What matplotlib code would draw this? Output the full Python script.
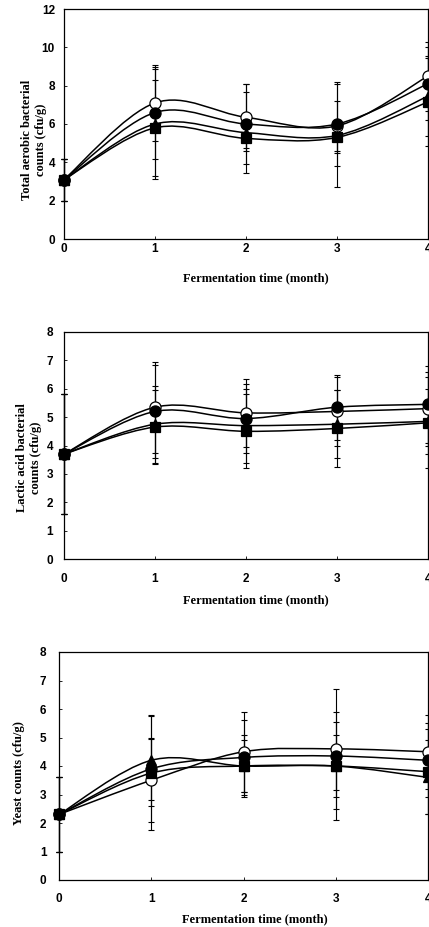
import matplotlib
matplotlib.use("Agg")
import matplotlib.pyplot as plt
from matplotlib.path import Path
from matplotlib.patches import PathPatch

months = [0, 1, 2, 3, 4]
xtick_labels = ["0", "1", "2", "3", "4"]

# Panel 1: total aerobic bacteria
tab_open = [3.1, 7.1, 6.35, 5.9, 8.5]
tab_open_err = [1.1, 2.0, 1.75, 1.3, 1.8]
tab_fill = [3.1, 6.6, 6.0, 6.0, 8.1]
tab_fill_err = [1.1, 2.4, 2.1, 2.2, 1.9]
tab_tri = [3.1, 6.0, 5.55, 5.4, 7.45]
tab_tri_err = [1.1, 2.85, 2.1, 2.7, 2.1]
tab_sq = [3.1, 5.8, 5.25, 5.3, 7.15]
tab_sq_err = [1.1, 2.5, 0.5, 0.8, 2.3]

# Panel 2: lactic acid bacteria
lab_open = [3.7, 5.35, 5.15, 5.2, 5.3]
lab_open_err = [2.1, 1.6, 1.2, 1.2, 1.3]
lab_fill = [3.7, 5.2, 4.95, 5.35, 5.45]
lab_fill_err = [2.1, 1.65, 1.2, 1.15, 1.35]
lab_tri = [3.7, 4.75, 4.7, 4.75, 4.85]
lab_tri_err = [2.1, 1.35, 1.3, 1.2, 1.15]
lab_sq = [3.7, 4.65, 4.5, 4.6, 4.8]
lab_sq_err = [2.1, 1.3, 1.3, 1.35, 1.6]

# Panel 3: yeast
ye_open = [2.3, 3.5, 4.5, 4.6, 4.5]
ye_open_err = [1.3, 1.45, 1.4, 2.1, 1.3]
ye_fill = [2.3, 3.9, 4.3, 4.35, 4.2]
ye_fill_err = [1.3, 1.1, 1.3, 1.2, 1.3]
ye_sq = [2.3, 3.75, 4.0, 4.0, 3.8]
ye_sq_err = [1.3, 2.0, 1.1, 1.1, 1.5]
ye_tri = [2.3, 4.2, 4.0, 4.0, 3.6]
ye_tri_err = [1.3, 1.6, 0.9, 1.9, 1.3]

panels = [
    dict(ylabel="Total aerobic bacterial\ncounts (cfu/g)", ylim=12, yticks=[0, 2, 4, 6, 8, 10, 12],
         series=[(tab_open, tab_open_err, "o", "white"), (tab_sq, tab_sq_err, "s", "black"),
                 (tab_tri, tab_tri_err, "^", "black"), (tab_fill, tab_fill_err, "o", "black")],
         rect=[64/429, 1-239/927, 364/429, 230/927],
         ylab=(-0.047, 0.43), xlab=(0.527, -0.143), ypad=6.5, xpad=3),
    dict(ylabel="Lactic acid bacterial\ncounts (cfu/g)", ylim=8, yticks=list(range(9)),
         series=[(lab_open, lab_open_err, "o", "white"), (lab_sq, lab_sq_err, "s", "black"),
                 (lab_tri, lab_tri_err, "^", "black"), (lab_fill, lab_fill_err, "o", "black")],
         rect=[64/429, 1-559/927, 364/429, 227/927],
         ylab=(-0.06, 0.445), xlab=(0.527, -0.154), ypad=8, xpad=10),
    dict(ylabel="Yeast counts (cfu/g)", ylim=8, yticks=list(range(9)),
         series=[(ye_open, ye_open_err, "o", "white"), (ye_sq, ye_sq_err, "s", "black"),
                 (ye_tri, ye_tri_err, "^", "black"), (ye_fill, ye_fill_err, "o", "black")],
         rect=[59/429, 1-880/927, 369/429, 228/927],
         ylab=(-0.092, 0.47), xlab=(0.53, -0.145), ypad=9, xpad=9),
]


def smooth_path(xs, ys):
    xs = list(xs); ys = list(ys)
    n = len(xs)
    verts = [(xs[0], ys[0])]
    codes = [Path.MOVETO]
    for i in range(n - 1):
        x0, y0 = (xs[i-1], ys[i-1]) if i > 0 else (xs[i], ys[i])
        x1, y1 = xs[i], ys[i]
        x2, y2 = xs[i+1], ys[i+1]
        x3, y3 = (xs[i+2], ys[i+2]) if i + 2 < n else (xs[i+1], ys[i+1])
        c1 = (x1 + (x2 - x0) / 6, y1 + (y2 - y0) / 6)
        c2 = (x2 - (x3 - x1) / 6, y2 - (y3 - y1) / 6)
        verts += [c1, c2, (x2, y2)]
        codes += [Path.CURVE4] * 3
    return Path(verts, codes)


fig = plt.figure(figsize=(4.29, 9.27), dpi=100)
tickfont = dict(family="Liberation Sans", weight="bold", size=8.5)
labfont = dict(family="Liberation Serif", weight="bold", size=9)

for p in panels:
    ax = fig.add_axes(p["rect"])
    for ys, err, mk, fc in p["series"]:
        ax.errorbar(months, ys, yerr=err, fmt="none", ecolor="black", elinewidth=0.8,
                    capsize=2.5, capthick=0.8, zorder=2, clip_on=False)
    for ys, err, mk, fc in p["series"]:
        ax.add_patch(PathPatch(smooth_path(months, ys), facecolor="none", edgecolor="black",
                               lw=1.1, zorder=3))
    for ys, err, mk, fc in p["series"]:
        ax.plot(months, ys, linestyle="none", marker=mk, markersize=8 if mk == "o" else 7.5,
                markerfacecolor=fc, markeredgecolor="black", markeredgewidth=0.9, zorder=4,
                clip_on=False)
    ax.set_xlim(0, 4)
    ax.set_ylim(0, p["ylim"])
    ax.set_xticks(months)
    ax.set_xticklabels(xtick_labels, fontdict=tickfont)
    ax.set_yticks(p["yticks"])
    ax.set_yticklabels([str(t) for t in p["yticks"]], fontdict=tickfont)
    ax.tick_params(direction="in", length=2, width=0.6)
    ax.tick_params(axis="y", pad=p["ypad"])
    ax.tick_params(axis="x", pad=p["xpad"])
    for s in ax.spines.values():
        s.set_linewidth(0.9)
        s.set_color("black")
    ax.set_xlabel("Fermentation time (month)", fontdict=labfont)
    ax.set_ylabel(p["ylabel"], fontdict=labfont, linespacing=1.25)
    ax.yaxis.set_label_coords(*p["ylab"])
    ax.xaxis.set_label_coords(*p["xlab"])

fig.savefig("out.png", dpi=100)
